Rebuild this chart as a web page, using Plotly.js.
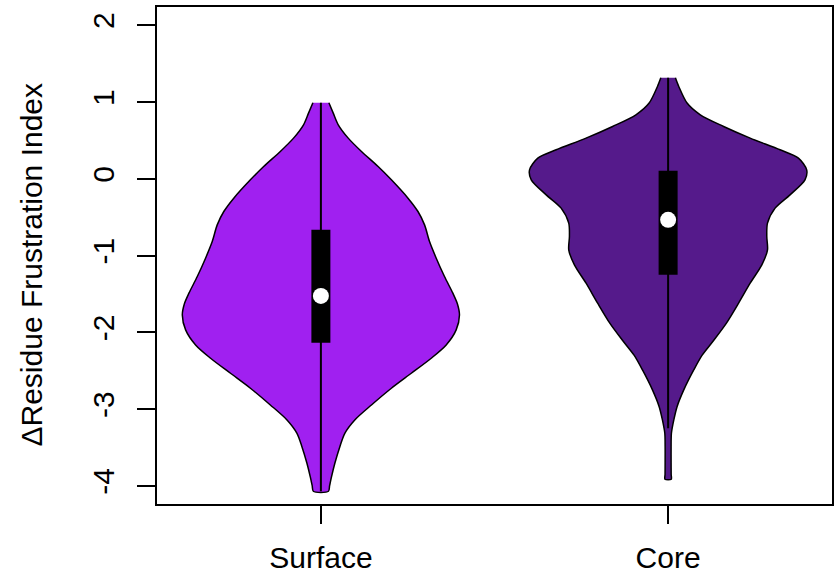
<!DOCTYPE html>
<html>
<head>
<meta charset="utf-8">
<script src="https://cdn.plot.ly/plotly-3.0.1.min.js"></script>
<style>html,body{margin:0;padding:0;background:#fff;}#chart{width:838px;height:574px;}</style>
</head>
<body>
<div id="chart"></div>
<script>
// Category labels and positions
const categories = ['Surface', 'Core'];
const catPos = [1, 2];
const colors = ['#A020F0', '#551A8B'];

// Density profiles (y value, half-width in category units)
const surfaceY  = [0.99, 0.856, 0.704, 0.530, 0.356, 0.16, -0.013, -0.252, -0.426, -0.6, -0.817, -1.034, -1.273, -1.49, -1.63, -1.773, -1.968, -2.164, -2.337, -2.533, -2.728, -2.946, -3.141, -3.315, -3.489, -3.706, -3.88, -4.0, -4.07];
const surfaceHW = [0.0230, 0.0356, 0.0500, 0.0787, 0.1169, 0.1648, 0.2030, 0.2509, 0.2796, 0.2986, 0.3129, 0.3322, 0.3560, 0.3801, 0.3933, 0.3991, 0.3896, 0.3609, 0.3178, 0.2604, 0.2030, 0.1456, 0.0976, 0.0689, 0.0546, 0.0402, 0.0307, 0.0250, 0.0218];
const coreY  = [1.316, 1.203, 0.987, 0.834, 0.682, 0.530, 0.378, 0.27, 0.117, -0.013, -0.209, -0.382, -0.577, -0.752, -0.925, -1.121, -1.36, -1.62, -1.88, -2.1, -2.3, -2.49, -2.75, -2.968, -3.141, -3.315, -3.5, -3.7, -3.85, -3.914];
const coreHW = [0.0210, 0.0307, 0.0546, 0.0927, 0.1599, 0.2363, 0.3224, 0.3753, 0.3991, 0.3942, 0.3511, 0.3081, 0.2862, 0.2842, 0.2862, 0.2699, 0.2363, 0.2030, 0.1680, 0.1321, 0.0976, 0.0738, 0.0451, 0.0258, 0.0164, 0.0095, 0.0086, 0.0086, 0.0088, 0.0090];

// Box statistics
const q1 = [-2.134, -1.251];
const q3 = [-0.665, 0.104];
const medians = [-1.525, -0.534];
const whiskerLo = [-4.07, -3.25];
const whiskerHi = [0.99, 1.316];

const yTicks = [-4, -3, -2, -1, 0, 1, 2];
const yTitle = '\u0394Residue Frustration Index';

const profiles = [[surfaceY, surfaceHW], [coreY, coreHW]];
const traces = [];
profiles.forEach(([ys, hw], i) => {
  const c = catPos[i];
  const left = ys.map((y, k) => c - hw[k]);
  const right = ys.map((y, k) => c + hw[k]).reverse();
  traces.push({
    type: 'scatter', mode: 'lines', x: left.concat(right), y: ys.concat(ys.slice().reverse()), fill: 'toself',
    fillcolor: colors[i], line: {color: '#000', width: 1.5, shape: 'spline', smoothing: 0.8},
    hoverinfo: 'skip', showlegend: false
  });
});
catPos.forEach((c, i) => {
  traces.push({type: 'scatter', mode: 'lines', x: [c, c], y: [whiskerLo[i], whiskerHi[i]],
    line: {color: '#000', width: 2}, showlegend: false, hoverinfo: 'skip'});
  traces.push({type: 'scatter', mode: 'lines', x: [c, c], y: [q1[i], q3[i]],
    line: {color: '#000', width: 19}, showlegend: false, hoverinfo: 'skip'});
});
traces.push({type: 'scatter', mode: 'markers', x: catPos, y: medians,
  marker: {color: '#fff', size: 16, line: {width: 0}}, showlegend: false, hoverinfo: 'skip'});

const font = {family: 'Liberation Sans, Arial, sans-serif', size: 30, color: '#000'};
const layout = {
  width: 838, height: 574,
  margin: {l: 157, r: 6, t: 7, b: 70},
  paper_bgcolor: '#fff', plot_bgcolor: '#fff',
  font: font,
  showlegend: false,
  xaxis: {
    range: [0.528, 2.472], tickvals: catPos, ticktext: categories,
    showgrid: false, zeroline: false, showline: true, mirror: true, linecolor: '#000', linewidth: 2,
    ticks: 'outside', ticklen: 18, tickwidth: 2, tickcolor: '#000', ticklabelstandoff: 8,
    tickfont: font
  },
  yaxis: {
    range: [-4.236, 2.238], tickvals: yTicks, ticktext: yTicks.map(String),
    showgrid: false, zeroline: false, showline: true, mirror: true, linecolor: '#000', linewidth: 2,
    ticks: 'outside', ticklen: 18, tickwidth: 2, tickcolor: '#000', tickangle: -90, ticklabelstandoff: 11,
    tickfont: font
  },
  annotations: [{
    text: yTitle, textangle: -90, showarrow: false,
    xref: 'paper', yref: 'paper', x: -0.1856, y: 0.4813, xanchor: 'center', yanchor: 'middle',
    font: font
  }]
};
Plotly.newPlot('chart', traces, layout, {staticPlot: true, displayModeBar: false});
</script>
</body>
</html>
